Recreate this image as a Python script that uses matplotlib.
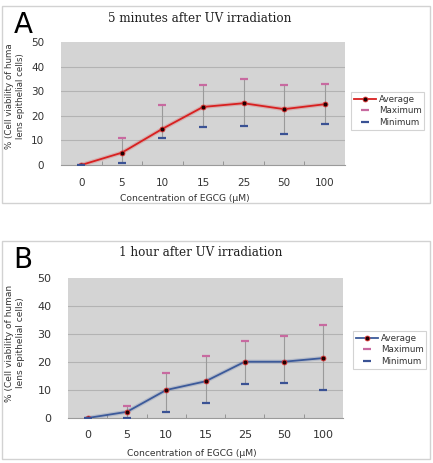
import matplotlib
matplotlib.use('Agg')
import matplotlib.pyplot as plt
from matplotlib.patches import Rectangle

# EGCG concentrations (uM) - categorical axis
conc = ['0', '5', '10', '15', '25', '50', '100']

# panel A: 5 minutes after UV
avg_a = [0, 5.0, 14.7, 23.6, 25.1, 22.7, 24.7]
max_a = [0, 11.1, 24.3, 32.4, 35.1, 32.7, 33.0]
min_a = [0, 0.7, 11.1, 15.3, 15.9, 12.4, 16.8]

# panel B: 1 hour after UV
avg_b = [0, 2.2, 10.0, 13.1, 20.1, 20.1, 21.4]
max_b = [0, 4.3, 16.0, 22.0, 27.4, 29.2, 33.1]
min_b = [0, 0.1, 2.2, 5.2, 12.1, 12.6, 10.1]

W, H = 433, 463
fig = plt.figure(figsize=(W / 100, H / 100), dpi=100)


def px(x, y):
    # pixel (top-left origin) -> figure fraction
    return x / W, 1 - y / H


def panel(frame, plot_box, avg, mx, mn, line_col, title, ylab, letter, letter_xy,
          title_xy, xlab_xy, ylab_xy, leg_xy, fs, ylab_fs):
    # outer frame of the panel
    x0, y0, x1, y1 = frame
    fig.add_artist(Rectangle(px(x0, y1), (x1 - x0) / W, (y1 - y0) / H,
                             transform=fig.transFigure, fill=False, ec='#d2d2d2', lw=1))
    a0, b0, a1, b1 = plot_box
    ax = fig.add_axes([a0 / W, 1 - b1 / H, (a1 - a0) / W, (b1 - b0) / H])
    ax.set_facecolor('#d4d4d4')
    x = list(range(len(conc)))
    for v in [10, 20, 30, 40]:
        ax.axhline(v, color='#b3b3b3', lw=0.8, zorder=1)
    ax.vlines(x, mn, mx, color='#9a9a9a', lw=0.8, zorder=2)
    # soft glow behind the average line
    ax.plot(x, avg, color=line_col, lw=3, alpha=0.2, zorder=3)
    l1, = ax.plot(x, avg, color=line_col, lw=1.3, marker='o', ms=3.5,
                  mfc='#200000', mec='#e03030', mew=0.6, zorder=4)
    l2, = ax.plot(x, mx, ls='none', marker='_', ms=6, mew=1.6, color='#c86aa0', zorder=5)
    l3, = ax.plot(x, mn, ls='none', marker='_', ms=6, mew=1.6, color='#3a5294', zorder=5)
    ax.set_xlim(-0.5, len(conc) - 0.5)
    ax.set_ylim(0, 50)
    ax.set_yticks([0, 10, 20, 30, 40, 50])
    ax.set_xticks(x)
    ax.set_xticklabels(conc)
    ax.set_xticks([i + 0.5 for i in range(len(conc) - 1)], minor=True)
    ax.tick_params(axis='both', which='major', length=0, labelsize=fs, colors='#333333')
    ax.tick_params(axis='x', which='major', pad=9)
    ax.tick_params(axis='y', which='major', pad=12)
    ax.tick_params(axis='x', which='minor', length=3, direction='in', color='#8a8a8a')
    for s in ['top', 'right', 'left']:
        ax.spines[s].set_visible(False)
    ax.spines['bottom'].set_color('#9a9a9a')
    ax.spines['bottom'].set_linewidth(0.8)

    leg = fig.legend([l1, l2, l3], ['Average', 'Maximum', 'Minimum'],
                     loc='upper left', bbox_to_anchor=px(*leg_xy),
                     fontsize=6.3, frameon=True, fancybox=False, handlelength=2.6,
                     handletextpad=0.3, borderpad=0.3, labelspacing=0.3, borderaxespad=0)
    leg.get_frame().set_edgecolor('#c8c8c8')
    leg.get_frame().set_linewidth(0.8)
    for t in leg.get_texts():
        t.set_color('#333333')

    fig.text(*px(*title_xy), title, family='DejaVu Serif',
             fontsize=8.6, ha='center', va='center', color='#222222')
    fig.text(*px(*letter_xy), letter,
             family=['Liberation Sans Narrow', 'DejaVu Sans'], fontsize=20,
             ha='center', va='center')
    fig.text(*px(*xlab_xy), 'Concentration of EGCG (\u03bcM)',
             fontsize=6.6, ha='center', va='center', color='#333333')
    fig.text(*px(*ylab_xy), ylab, fontsize=ylab_fs, rotation=90,
             ha='center', va='center', multialignment='center', color='#333333',
             linespacing=1.3)
    return ax


ax_a = panel((2, 6, 430, 203), (61, 42, 345, 165), avg_a, max_a, min_a, '#d82020',
             '5 minutes after UV irradiation',
             '% (Cell viability of huma\nlens epithelial cells)',
             'A', (23, 25), (200, 18), (185, 198), (15, 96), (351, 92), 7.5, 6.2)

ax_b = panel((2, 241, 430, 459), (68, 278, 343, 418), avg_b, max_b, min_b, '#3c5a9a',
             '1 hour after UV irradiation',
             '% (Cell viability of human\nlens epithelial cells)',
             'B', (23, 260), (201, 252), (192, 453), (15, 343), (353, 331), 8, 6.5)

fig.savefig('out.png', dpi=100, facecolor='white')
